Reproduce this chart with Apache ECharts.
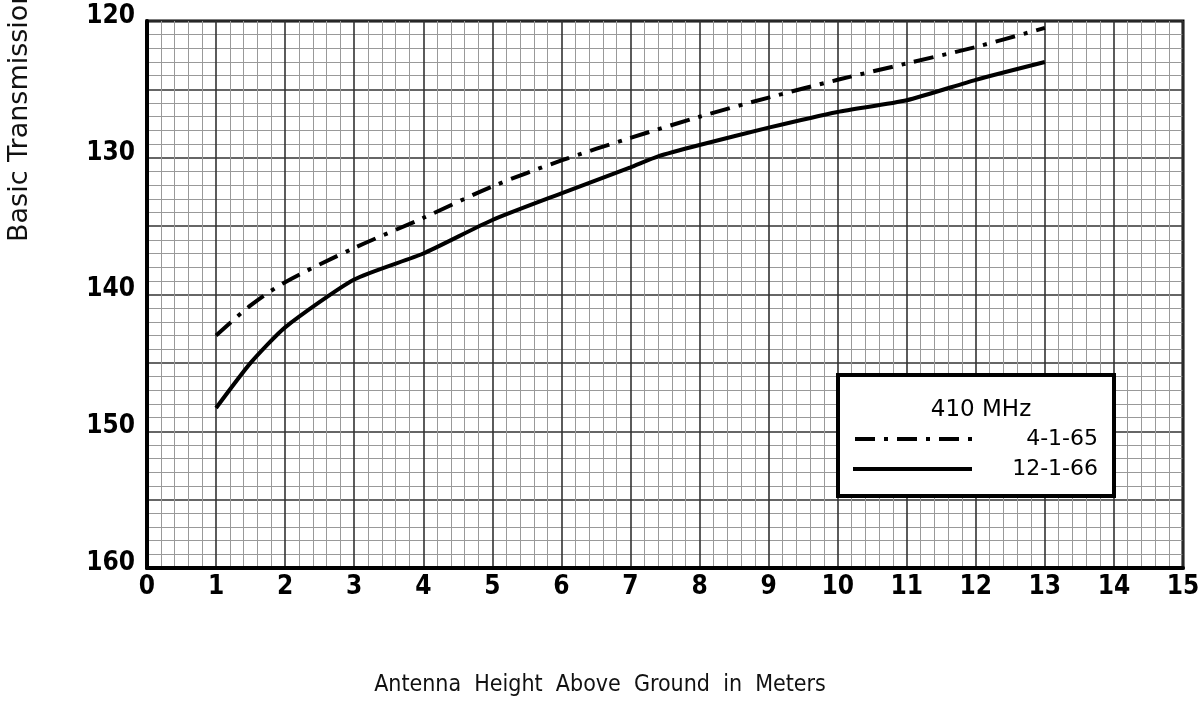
<!DOCTYPE html>
<html><head><meta charset="utf-8">
<script src="https://cdn.jsdelivr.net/npm/echarts@6/dist/echarts.min.js"></script>
<style>html,body{margin:0;padding:0;background:#fff}#c{width:1200px;height:703px}</style>
</head><body><div id="c"></div>
<script>
const heights65 = [1, 1.5, 2, 3, 4, 5, 6, 7, 8, 9, 10, 11, 12, 13];
const loss65 = [143.0, 140.8, 139.1, 136.6, 134.4, 132.1, 130.2, 128.55, 127.0, 125.6, 124.3, 123.1, 121.9, 120.5];
const heights66 = [1, 1.5, 2, 3, 4, 5, 6, 7, 7.4, 8, 9, 10, 11, 12, 13];
const loss66 = [148.3, 145.0, 142.4, 138.9, 137.0, 134.55, 132.6, 130.7, 129.9, 129.07, 127.8, 126.65, 125.8, 124.3, 123.0];
const legendTitle = '410 MHz';
const seriesNames = ['4-1-65', '12-1-66'];
const xTitle = 'Antenna  Height  Above  Ground  in  Meters';
const yTitle = 'Basic Transmission Loss in dB';

const chart = echarts.init(document.getElementById('c'));
const dashDot = [20, 9, 4, 9];
const tickFont = '"Liberation Sans Narrow", "DejaVu Sans Condensed"';
chart.setOption({
  animation: false,
  backgroundColor: '#fff',
  grid: {left: 147, right: 17, top: 21, bottom: 135, show: true, borderColor: '#000', borderWidth: 3,
         containLabel: false, outerBoundsMode: 'none'},
  xAxis: {
    type: 'value', min: 0, max: 15, interval: 1,
    axisLine: {show: true, onZero: false, lineStyle: {color: '#000', width: 4}},
    axisTick: {show: false},
    axisLabel: {fontFamily: tickFont, fontSize: 26, color: '#000', margin: 6, fontWeight: 'bold'},
    splitLine: {show: true, lineStyle: {color: '#333', width: 1.6}},
    minorTick: {show: false, splitNumber: 5},
    minorSplitLine: {show: true, lineStyle: {color: '#999', width: 1}}
  },
  yAxis: {
    type: 'value', min: 120, max: 160, interval: 5, inverse: true,
    axisLine: {show: true, onZero: false, lineStyle: {color: '#000', width: 4}},
    axisTick: {show: false},
    axisLabel: {fontFamily: tickFont, fontSize: 26, color: '#000', margin: 12, fontWeight: 'bold',
      verticalAlign: 'bottom', padding: [0, 0, -8, 0],
      formatter: v => (v % 10 === 0 ? String(v) : '')},
    splitLine: {show: true, lineStyle: {color: '#333', width: 1.6}},
    minorTick: {show: false, splitNumber: 5},
    minorSplitLine: {show: true, lineStyle: {color: '#999', width: 1}}
  },
  series: [
    {name: seriesNames[0], type: 'line', showSymbol: false, smooth: 0.3,
     data: heights65.map((h, i) => [h, loss65[i]]),
     lineStyle: {color: '#000', width: 4, type: dashDot}},
    {name: seriesNames[1], type: 'line', showSymbol: false, smooth: 0.2,
     data: heights66.map((h, i) => [h, loss66[i]]),
     lineStyle: {color: '#000', width: 4}}
  ],
  graphic: [
    {type: 'text', x: 6, y: 242, rotation: Math.PI / 2,
     style: {text: yTitle, font: '27px "DejaVu Sans"', fill: '#111', align: 'left', verticalAlign: 'top'}},
    {type: 'text', x: 600, y: 685,
     style: {text: xTitle, font: '23px "DejaVu Sans Condensed"', fill: '#111', align: 'center', verticalAlign: 'middle'}},
    {type: 'rect', shape: {x: 838, y: 375, width: 276, height: 121},
     style: {fill: '#fff', stroke: '#000', lineWidth: 4}, z: 100},
    {type: 'text', x: 981, y: 410, z: 101,
     style: {text: legendTitle, font: '23px "DejaVu Sans"', fill: '#000', align: 'center', verticalAlign: 'middle'}},
    {type: 'line', shape: {x1: 855, y1: 439, x2: 972, y2: 439},
     style: {stroke: '#000', lineWidth: 4, lineDash: dashDot}, z: 101},
    {type: 'text', z: 101, x: 1098, y: 439,
     style: {text: seriesNames[0], font: '22px "DejaVu Sans"', fill: '#000', align: 'right', verticalAlign: 'middle'}},
    {type: 'line', shape: {x1: 853, y1: 469, x2: 972, y2: 469},
     style: {stroke: '#000', lineWidth: 4}, z: 101},
    {type: 'text', z: 101, x: 1098, y: 469,
     style: {text: seriesNames[1], font: '22px "DejaVu Sans"', fill: '#000', align: 'right', verticalAlign: 'middle'}}
  ]
});
</script></body></html>
